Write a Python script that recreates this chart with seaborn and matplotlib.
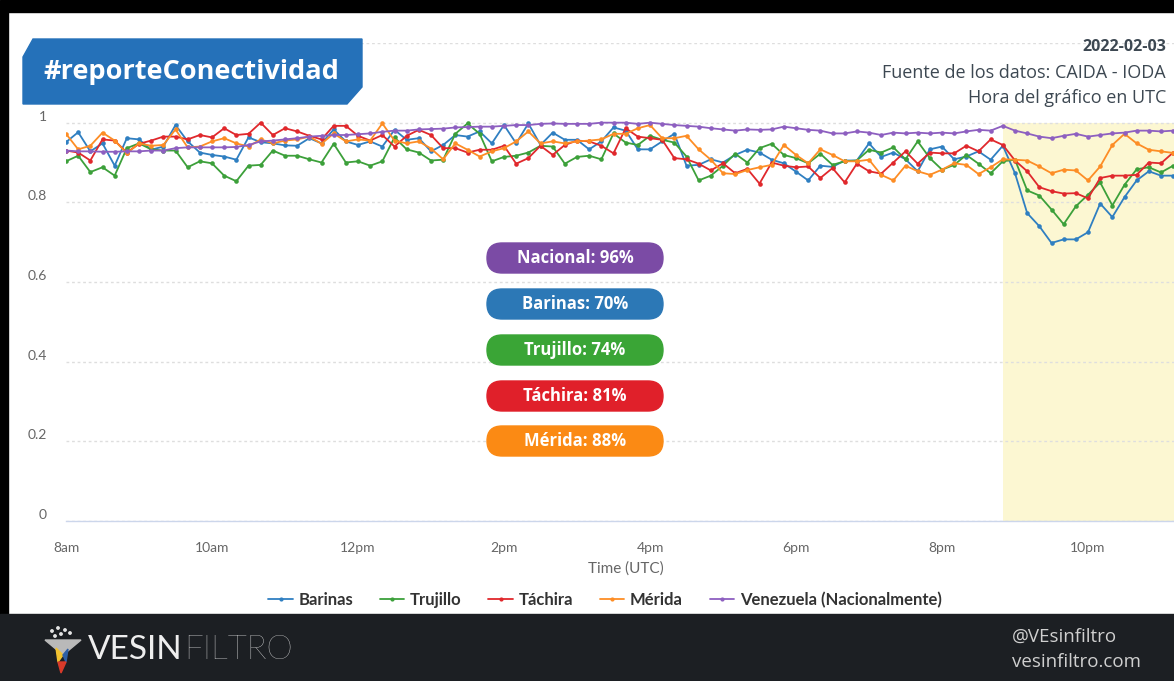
import matplotlib
matplotlib.use('Agg')
import matplotlib.patches as patches
import matplotlib.pyplot as plt
import numpy as np
import pandas as pd
import seaborn as sns
from matplotlib.lines import Line2D
from matplotlib.transforms import ScaledTranslation

W, H = 1174, 681

# 10-minute bins, 2022-02-03 (UTC)
times = pd.date_range('2022-02-03 08:00', periods=92, freq='10min')

barinas = [
    0.951, 0.976, 0.928, 0.948, 0.892, 0.961, 0.958, 0.932, 0.940, 0.994,
    0.953, 0.925, 0.919, 0.915, 0.907, 0.963, 0.951, 0.948, 0.943, 0.942,
    0.961, 0.948, 0.983, 0.953, 0.944, 0.953, 0.940, 0.982, 0.957, 0.961,
    0.928, 0.944, 0.969, 0.965, 0.978, 0.948, 0.994, 0.948, 0.998, 0.944,
    0.975, 0.957, 0.957, 0.933, 0.953, 0.988, 0.980, 0.933, 0.933, 0.953,
    0.972, 0.892, 0.894, 0.908, 0.900, 0.919, 0.932, 0.925, 0.907, 0.898,
    0.877, 0.855, 0.892, 0.889, 0.905, 0.905, 0.948, 0.914, 0.925, 0.908,
    0.878, 0.933, 0.940, 0.908, 0.915, 0.928, 0.907, 0.942, 0.873, 0.773,
    0.740, 0.698, 0.707, 0.707, 0.725, 0.797, 0.763, 0.813, 0.855, 0.878,
    0.867, 0.867]
trujillo = [
    0.903, 0.917, 0.876, 0.888, 0.867, 0.936, 0.948, 0.933, 0.930, 0.930,
    0.888, 0.903, 0.898, 0.867, 0.853, 0.892, 0.894, 0.930, 0.917, 0.917,
    0.908, 0.900, 0.947, 0.900, 0.903, 0.892, 0.903, 0.963, 0.933, 0.925,
    0.905, 0.907, 0.972, 0.998, 0.972, 0.903, 0.914, 0.917, 0.925, 0.942,
    0.940, 0.897, 0.914, 0.917, 0.908, 0.973, 0.950, 0.944, 0.967, 0.957,
    0.950, 0.915, 0.855, 0.867, 0.892, 0.922, 0.900, 0.936, 0.947, 0.919,
    0.911, 0.898, 0.922, 0.894, 0.903, 0.905, 0.932, 0.925, 0.938, 0.908,
    0.953, 0.911, 0.882, 0.894, 0.919, 0.897, 0.873, 0.903, 0.907, 0.830,
    0.817, 0.782, 0.745, 0.790, 0.819, 0.850, 0.792, 0.844, 0.883, 0.888,
    0.875, 0.892]
tachira = [
    0.930, 0.925, 0.905, 0.958, 0.955, 0.925, 0.947, 0.955, 0.965, 0.965,
    0.958, 0.969, 0.963, 0.986, 0.969, 0.972, 1.000, 0.969, 0.986, 0.978,
    0.967, 0.958, 0.992, 0.992, 0.967, 0.955, 0.969, 0.940, 0.967, 0.982,
    0.969, 0.936, 0.936, 0.925, 0.932, 0.932, 0.942, 0.897, 0.911, 0.942,
    0.919, 0.944, 0.955, 0.953, 0.942, 0.923, 0.986, 0.965, 0.961, 0.957,
    0.911, 0.908, 0.897, 0.880, 0.898, 0.873, 0.884, 0.847, 0.900, 0.892,
    0.888, 0.890, 0.861, 0.886, 0.850, 0.897, 0.878, 0.872, 0.900, 0.928,
    0.897, 0.925, 0.923, 0.923, 0.942, 0.928, 0.958, 0.944, 0.905, 0.878,
    0.838, 0.828, 0.822, 0.823, 0.810, 0.861, 0.867, 0.867, 0.869, 0.900,
    0.898, 0.925]
merida = [
    0.972, 0.933, 0.942, 0.975, 0.955, 0.923, 0.948, 0.942, 0.944, 0.983,
    0.938, 0.940, 0.953, 0.961, 0.948, 0.940, 0.958, 0.948, 0.955, 0.958,
    0.965, 0.947, 0.973, 0.953, 0.958, 0.955, 0.998, 0.955, 0.948, 0.953,
    0.935, 0.908, 0.948, 0.932, 0.915, 0.928, 0.936, 0.953, 0.978, 0.948,
    0.953, 0.948, 0.953, 0.955, 0.958, 0.972, 0.972, 0.986, 0.994, 0.961,
    0.961, 0.967, 0.933, 0.907, 0.873, 0.871, 0.881, 0.888, 0.894, 0.944,
    0.919, 0.898, 0.933, 0.919, 0.903, 0.903, 0.907, 0.869, 0.855, 0.892,
    0.878, 0.869, 0.882, 0.898, 0.894, 0.871, 0.888, 0.908, 0.907, 0.905,
    0.890, 0.873, 0.882, 0.880, 0.855, 0.890, 0.944, 0.972, 0.948, 0.932,
    0.928, 0.924]
venezuela = [
    0.930, 0.928, 0.928, 0.927, 0.927, 0.928, 0.928, 0.930, 0.930, 0.936,
    0.938, 0.938, 0.938, 0.938, 0.939, 0.944, 0.953, 0.955, 0.958, 0.961,
    0.965, 0.967, 0.969, 0.969, 0.971, 0.973, 0.977, 0.980, 0.980, 0.983,
    0.984, 0.985, 0.988, 0.989, 0.990, 0.990, 0.992, 0.994, 0.994, 0.997,
    0.998, 0.997, 0.997, 0.997, 1.000, 1.000, 1.000, 0.997, 1.000, 0.997,
    0.994, 0.992, 0.990, 0.986, 0.983, 0.980, 0.983, 0.982, 0.983, 0.990,
    0.986, 0.982, 0.980, 0.973, 0.973, 0.978, 0.975, 0.969, 0.975, 0.973,
    0.975, 0.973, 0.975, 0.973, 0.978, 0.982, 0.980, 0.992, 0.980, 0.973,
    0.965, 0.961, 0.967, 0.972, 0.965, 0.969, 0.973, 0.975, 0.980, 0.980,
    0.978, 0.980]

series_names = ['Barinas', 'Trujillo', 'Táchira', 'Mérida', 'Venezuela (Nacionalmente)']
series_colors = ['#2f7fc1', '#3ca03a', '#e0282c', '#fd8d25', '#8d5fc0']

badge_labels = ['Nacional: 96%', 'Barinas: 70%', 'Trujillo: 74%', 'Táchira: 81%', 'Mérida: 88%']
badge_colors = ['#7b4ba5', '#2c78b6', '#3aa536', '#e0202a', '#fb8a14']

tick_times = pd.date_range('2022-02-03 08:00', periods=8, freq='2h')
tick_labels = ['8am', '10am', '12pm', '2pm', '4pm', '6pm', '8pm', '10pm']
band_start = pd.Timestamp('2022-02-03 20:50')

df = pd.DataFrame({'time': times, 'Barinas': barinas, 'Trujillo': trujillo,
                   'Táchira': tachira, 'Mérida': merida,
                   'Venezuela (Nacionalmente)': venezuela})
df = df.melt(id_vars='time', var_name='region', value_name='value')

sns.set_style('white')
plt.rcParams['font.family'] = ['Lato', 'DejaVu Sans']


def fx(x):
    return x / W


def fy(y):
    return 1 - y / H


fig = plt.figure(figsize=(W / 100, H / 100), dpi=100)
ax = fig.add_axes([fx(66), fy(521), fx(1108), 478 / H])

ax.axvspan(band_start, times[0] + pd.Timedelta(hours=15.2), ymin=0, ymax=1 / 1.2,
           color='#fcf7d2', zorder=0, lw=0)

sns.lineplot(data=df, x='time', y='value', hue='region', hue_order=series_names,
             palette=series_colors, marker='o', markersize=3.3, markeredgewidth=0,
             linewidth=1.3, legend=False, ax=ax)

ax.set_xlim(times[0], times[0] + pd.Timedelta(hours=1108 / 73))
ax.set_ylim(0, 1.2)
ax.set_yticks(np.arange(0, 1.21, 0.2))
ax.set_yticklabels(['0', '0.2', '0.4', '0.6', '0.8', '1', ''])
ax.set_xticks(tick_times)
ax.set_xticklabels(tick_labels)
ax.set_xlabel('')
ax.set_ylabel('')
ax.set_axisbelow(True)
ax.grid(axis='y', color='#dedede', linestyle=(0, (2, 2)), linewidth=1)
ax.grid(axis='x', visible=False)
for side in ['top', 'right', 'left']:
    ax.spines[side].set_visible(False)
ax.spines['bottom'].set_color('#ccd6eb')
ax.spines['bottom'].set_linewidth(1)
ax.tick_params(axis='x', length=9, width=1, color='#ccd6eb', labelcolor='#666666',
               labelsize=10, pad=6)
ax.tick_params(axis='y', length=0, labelcolor='#666666', labelsize=10, pad=14)
for lab in ax.get_yticklabels():
    lab.set_transform(lab.get_transform() + ScaledTranslation(0, 0.07, fig.dpi_scale_trans))

fig.text(fx(626), fy(569), 'Time (UTC)', ha='center', va='center', size=11, color='#666666')

handles = [Line2D([], [], color=c, lw=1.3, marker='o', ms=3, mew=0) for c in series_colors]
fig.legend(handles, series_names, loc='center', bbox_to_anchor=(fx(605), fy(600)), ncol=5,
           frameon=False, prop={'family': 'Lato', 'weight': 'bold', 'size': 12},
           labelcolor='#333333', handlelength=1.45, handletextpad=0.36, columnspacing=1.6)

# frame around the screenshot
fig.add_artist(patches.Rectangle((0, fy(12)), 1, 12 / H, transform=fig.transFigure,
                                 color='black', zorder=5))
fig.add_artist(patches.Rectangle((0, fy(614)), fx(8), 602 / H, transform=fig.transFigure,
                                 color='black', zorder=5))
fig.add_artist(patches.Rectangle((0, 0), 1, 67 / H, transform=fig.transFigure,
                                 color='#1c1f23', zorder=5))

# title tag
tag = [(23, 57), (33, 39), (362, 39), (362, 87), (347, 104), (23, 104)]
fig.add_artist(patches.Polygon([(x / 100, (H - y) / 100) for x, y in tag],
                               closed=True, transform=fig.dpi_scale_trans,
                               color='#2571b9', zorder=6))
fig.text(fx(43), fy(72), '#reporteConectividad', ha='left', va='center', size=19.5,
         weight='bold', color='white', family='Open Sans', zorder=7)

info = [('2022-02-03', 'bold', 11.5, 47), ('Fuente de los datos: CAIDA - IODA', 'normal', 13, 73),
        ('Hora del gráfico en UTC', 'normal', 13, 98)]
for txt, wt, sz, yy in info:
    fig.text(fx(1166), fy(yy), txt, ha='right', va='center', size=sz, weight=wt,
             color='#3d4852', family='Open Sans', zorder=7)

# badges
badge_y = [258, 304, 350, 396, 441]
for lab, col, cy in zip(badge_labels, badge_colors, badge_y):
    fig.add_artist(patches.FancyBboxPatch((487 / 100, (H - cy - 15) / 100), 1.76, 0.30,
                                          boxstyle='round,pad=0,rounding_size=0.15',
                                          transform=fig.dpi_scale_trans, color=col, zorder=6))
    fig.text(fx(575), fy(cy), lab, ha='center', va='center', size=12, weight='bold',
             color='white', family='Open Sans', zorder=7)

# footer logo
for cx, cy in [(52, 631), (58, 628), (65, 630), (61, 634), (70, 633), (55, 636)]:
    fig.add_artist(patches.Circle((cx / 100, (H - cy) / 100), 0.012,
                                  transform=fig.dpi_scale_trans, color='#e6e6e6', zorder=6))
logo = [([(45, 640), (81, 640), (63, 655)], '#b9b9b9'),
        ([(56, 648), (63, 655), (58, 662)], '#f2c230'),
        ([(63, 655), (68, 649), (66, 662)], '#2d5fa6'),
        ([(58, 662), (66, 662), (61, 673)], '#d83a2a')]
for pts, col in logo:
    fig.add_artist(patches.Polygon([(x / 100, (H - y) / 100) for x, y in pts],
                                   closed=True, transform=fig.dpi_scale_trans,
                                   color=col, zorder=6))
vesin = fig.text(fx(88), fy(650), 'VESIN', ha='left', va='center', size=24, weight='normal',
                 color='#eeeeee', family='Lato', zorder=7)
bb = vesin.get_window_extent(renderer=fig.canvas.get_renderer())
fig.text(bb.x1 / W + fx(2), fy(650), 'FILTRO', ha='left', va='center', size=24,
         weight='light', color='#eeeeee', family='Lato', zorder=7)
fig.text(fx(1012), fy(637), '@VEsinfiltro', ha='left', va='center', size=13.5,
         color='#cfcfcf', family='Open Sans', zorder=7)
fig.text(fx(1012), fy(662), 'vesinfiltro.com', ha='left', va='center', size=13.5,
         color='#cfcfcf', family='Open Sans', zorder=7)

fig.savefig('out.png', dpi=100)
